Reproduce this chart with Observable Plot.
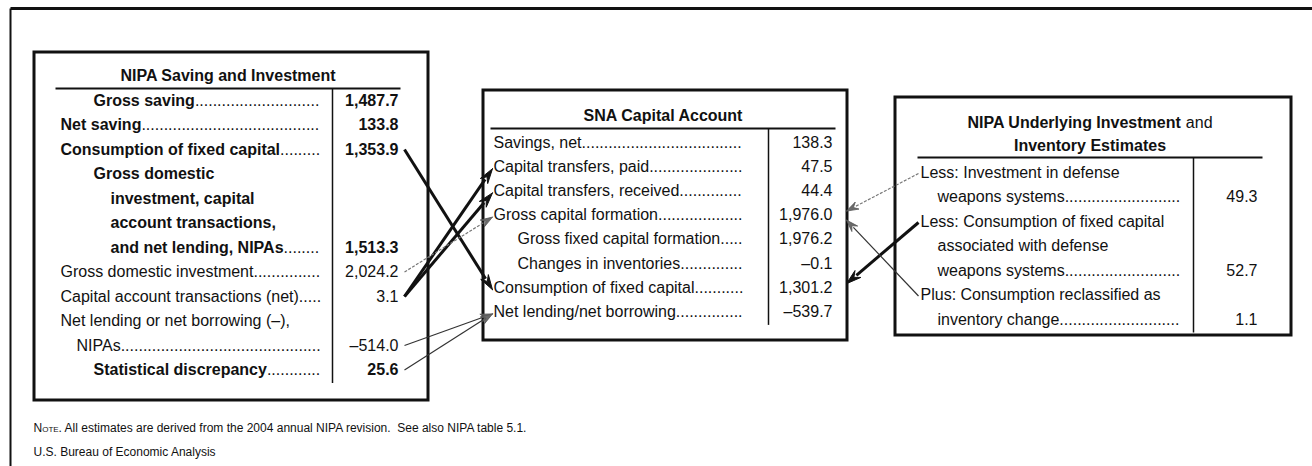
<!DOCTYPE html>
<html><head><meta charset="utf-8">
<script src="https://cdn.jsdelivr.net/npm/d3@7"></script>
<script src="https://cdn.jsdelivr.net/npm/@observablehq/plot@0.6"></script>
<style>html,body{margin:0;padding:0;background:#fff;}</style>
</head><body><div id="chart"></div>
<script>
// ---------------- DATA ----------------
const nipaTitle = ["NIPA Saving and Investment"];
const nipaLabels = ["Gross saving", "Net saving", "Consumption of fixed capital", "Gross domestic",
  "investment, capital", "account transactions,", "and net lending, NIPAs", "Gross domestic investment",
  "Capital account transactions (net)", "Net lending or net borrowing (–),", "NIPAs", "Statistical discrepancy"];
const nipaValues = [1487.7, 133.8, 1353.9, null, null, null, 1513.3, 2024.2, 3.1, null, -514.0, 25.6];
const nipaLevel = [2, 0, 0, 2, 3, 3, 3, 0, 0, 0, 1, 2];
const nipaAggregate = [true, true, true, true, true, true, true, false, false, false, false, true];

const snaTitle = ["SNA Capital Account"];
const snaLabels = ["Savings, net", "Capital transfers, paid", "Capital transfers, received", "Gross capital formation",
  "Gross fixed capital formation", "Changes in inventories", "Consumption of fixed capital", "Net lending/net borrowing"];
const snaValues = [138.3, 47.5, 44.4, 1976.0, 1976.2, -0.1, 1301.2, -539.7];
const snaLevel = [0, 0, 0, 0, 1, 1, 0, 0];

const undTitle = ["NIPA Underlying Investment and", "Inventory Estimates"];
const undLabels = ["Less: Investment in defense", "weapons systems", "Less: Consumption of fixed capital",
  "associated with defense", "weapons systems", "Plus: Consumption reclassified as", "inventory change"];
const undValues = [null, 49.3, null, null, 52.7, null, 1.1];
const undLevel = [0, 1, 0, 1, 1, 0, 1];

// links: source table/row -> target table/row, and link kind
const linkFromTable = ["nipa", "nipa", "nipa", "nipa", "nipa", "nipa", "und", "und", "und"];
const linkFromRow   = [2, 8, 8, 7, 10, 11, 0, 2, 5];
const linkToTable   = ["sna", "sna", "sna", "sna", "sna", "sna", "sna", "sna", "sna"];
const linkToRow     = [6, 1, 2, 3, 7, 7, 3, 6, 3];
const linkKind      = ["heavy", "heavy", "heavy", "faint", "light", "light", "faint", "heavy", "light"];

const noteLead = "Note.";
const noteText = " All estimates are derived from the 2004 annual NIPA revision.  See also NIPA table 5.1.";
const sourceText = "U.S. Bureau of Economic Analysis";

// ---------------- LAYOUT ----------------
const W = 1312, H = 466;
const FONT = "Liberation Sans";
const FS = 16;
const layout = {
  nipa: {box: [34, 52, 428, 400], titleY: [75], rule: [55, 400, 88], sep: 332, rowY0: 100, rowDy: 24.5,
         indent: [60, 76, 93, 110], dotsEnd: 322, valueRight: 398, side: "left"},
  sna:  {box: [483, 90, 847, 340], titleY: [115], rule: [490, 835, 128], sep: 768, rowY0: 142, rowDy: 24.2,
         indent: [493, 517], dotsEnd: 743, valueRight: 832, side: "mid"},
  und:  {box: [895, 97, 1291, 335], titleY: [122, 145], rule: [917, 1262, 157], sep: 1193, rowY0: 172, rowDy: 24.5,
         indent: [920, 937], dotsEnd: 1182, valueRight: 1257, side: "right"}
};

const ctx = document.createElement("canvas").getContext("2d");
function measure(s, size, weight = "normal", variant = "normal") {
  ctx.font = `${variant} ${weight} ${size}px "${FONT}"`;
  return ctx.measureText(s).width;
}
const fmt = v => v == null ? "" : d3.format(",.1f")(v).replace(/[−-]/g, "–");
const rowY = (key, i) => layout[key].rowY0 + i * layout[key].rowDy;

const texts = [], boxes = [], rules = [], seps = [];
function addTable(key, title, labels, values, level, strong) {
  const L = layout[key];
  boxes.push({x1: L.box[0], y1: L.box[1], x2: L.box[2], y2: L.box[3]});
  rules.push({x1: L.rule[0], x2: L.rule[1], y1: L.rule[2], y2: L.rule[2]});
  seps.push({x1: L.sep, x2: L.sep, y1: L.rule[2], y2: rowY(key, labels.length - 1) + 13});
  const cx = (L.rule[0] + L.rule[1]) / 2;
  title.forEach((line, i) => {
    const m = line.match(/^(.*)( and)$/);
    if (m) {
      const wb = measure(m[1], FS, "bold"), wr = measure(m[2], FS);
      const x0 = cx - (wb + wr) / 2;
      texts.push({x: x0, y: L.titleY[i], text: m[1], anchor: "start", bold: true});
      texts.push({x: x0 + wb, y: L.titleY[i], text: m[2], anchor: "start", bold: false});
    } else texts.push({x: cx, y: L.titleY[i], text: line, anchor: "middle", bold: true});
  });
  const dw = measure(".", FS);
  labels.forEach((lab, i) => {
    const y = rowY(key, i);
    const x = L.indent[level[i]];
    const b = strong ? strong[i] : false;
    texts.push({x, y, text: lab, anchor: "start", bold: b});
    if (values[i] != null) {
      const w = measure(lab, FS, b ? "bold" : "normal");
      const n = Math.max(0, Math.floor((L.dotsEnd - x - w) / dw));
      texts.push({x: x + w, y, text: ".".repeat(n), anchor: "start", bold: false});
      texts.push({x: L.valueRight, y, text: fmt(values[i]), anchor: "end", bold: b});
    }
  });
}
addTable("nipa", nipaTitle, nipaLabels, nipaValues, nipaLevel, nipaAggregate);
addTable("sna", snaTitle, snaLabels, snaValues, snaLevel, null);
addTable("und", undTitle, undLabels, undValues, undLevel, null);

// arrows
const headSpec = {heavy: {len: 15, half: 4.5}, light: {len: 12, half: 4}, faint: {len: 12, half: 4}};
const segs = [], heads = [];
linkFromTable.forEach((ft, i) => {
  const tt = linkToTable[i], LF = layout[ft], LT = layout[tt];
  let S, T;
  if (LF.side === "left") {
    S = [LF.valueRight + 6, rowY(ft, linkFromRow[i])];
    T = [LT.indent[0] - 1, rowY(tt, linkToRow[i]) + 2];
  } else {
    S = [LF.indent[0] - 2, rowY(ft, linkFromRow[i]) + 1];
    const ty = rowY(tt, linkToRow[i]);
    T = [LT.valueRight + 14, ty + (S[1] < ty ? -4 : 5)];
  }
  const k = linkKind[i], hs = headSpec[k];
  const dx = T[0] - S[0], dy = T[1] - S[1], d = Math.hypot(dx, dy);
  const ux = dx / d, uy = dy / d, nx = -uy, ny = ux;
  const B = [T[0] - hs.len * ux, T[1] - hs.len * uy];
  segs.push({kind: k, x1: S[0], y1: S[1], x2: B[0] + ux * 2, y2: B[1] + uy * 2});
  [[T[0], T[1]], [B[0] + hs.half * nx, B[1] + hs.half * ny], [B[0] + 0.35 * hs.len * ux, B[1] + 0.35 * hs.len * uy],
   [B[0] - hs.half * nx, B[1] - hs.half * ny], [T[0], T[1]]]
    .forEach(p => heads.push({id: i, kind: k, x: p[0], y: p[1]}));
});

// note & source
const noteX = 33, noteY = 428, srcY = 452, NS = 12;
const leadW = measure(noteLead, NS, "normal", "small-caps");

const ff = `"${FONT}", Arial, sans-serif`;
const T = (anchor, bold) => Plot.text(texts.filter(d => d.anchor === anchor && d.bold === bold),
  {x: "x", y: "y", text: "text", textAnchor: anchor, fontWeight: bold ? "bold" : "normal", fontSize: FS, fontFamily: ff, fill: "#111"});

const chart = Plot.plot({
  width: W, height: H, margin: 0,
  x: {domain: [0, W], range: [0, W], axis: null},
  y: {domain: [0, H], range: [0, H], axis: null},
  style: {fontFamily: ff, background: "#fff", overflow: "visible"},
  marks: [
    // outer frame
    Plot.link([{x1: 10, y1: 8, x2: W, y2: 8}], {x1: "x1", y1: "y1", x2: "x2", y2: "y2", stroke: "#111", strokeWidth: 3}),
    Plot.link([{x1: 10, y1: 8, x2: 10, y2: H}], {x1: "x1", y1: "y1", x2: "x2", y2: "y2", stroke: "#111", strokeWidth: 2}),
    Plot.rect(boxes, {x1: "x1", y1: "y1", x2: "x2", y2: "y2", fill: "none", stroke: "#111", strokeWidth: 3}),
    Plot.link(rules, {x1: "x1", y1: "y1", x2: "x2", y2: "y2", stroke: "#111", strokeWidth: 2}),
    Plot.link(seps, {x1: "x1", y1: "y1", x2: "x2", y2: "y2", stroke: "#111", strokeWidth: 1.5}),
    T("start", false), T("start", true), T("end", false), T("end", true), T("middle", true),
    Plot.link(segs.filter(d => d.kind === "heavy"), {x1: "x1", y1: "y1", x2: "x2", y2: "y2", stroke: "#111", strokeWidth: 3}),
    Plot.link(segs.filter(d => d.kind === "light"), {x1: "x1", y1: "y1", x2: "x2", y2: "y2", stroke: "#333", strokeWidth: 1.2}),
    Plot.link(segs.filter(d => d.kind === "faint"), {x1: "x1", y1: "y1", x2: "x2", y2: "y2", stroke: "#777", strokeWidth: 1.2, strokeDasharray: "3,1.5"}),
    Plot.line(heads.filter(d => d.kind === "heavy"), {x: "x", y: "y", z: "id", fill: "#111", stroke: "#111", strokeWidth: 1, curve: "linear"}),
    Plot.line(heads.filter(d => d.kind !== "heavy"), {x: "x", y: "y", z: "id", fill: "#6a6a6a", stroke: "#555", strokeWidth: 0.8, curve: "linear"}),
    Plot.text([{x: noteX, y: noteY, t: noteLead}], {x: "x", y: "y", text: "t", textAnchor: "start", fontSize: NS, fontVariant: "small-caps", fontFamily: ff, fill: "#111"}),
    Plot.text([{x: noteX + leadW, y: noteY, t: noteText}], {x: "x", y: "y", text: "t", textAnchor: "start", fontSize: NS, fontFamily: ff, fill: "#111"}),
    Plot.text([{x: noteX, y: srcY, t: sourceText}], {x: "x", y: "y", text: "t", textAnchor: "start", fontSize: NS, fontFamily: ff, fill: "#111"})
  ]
});
document.getElementById("chart").appendChild(chart);
</script>
</body></html>
